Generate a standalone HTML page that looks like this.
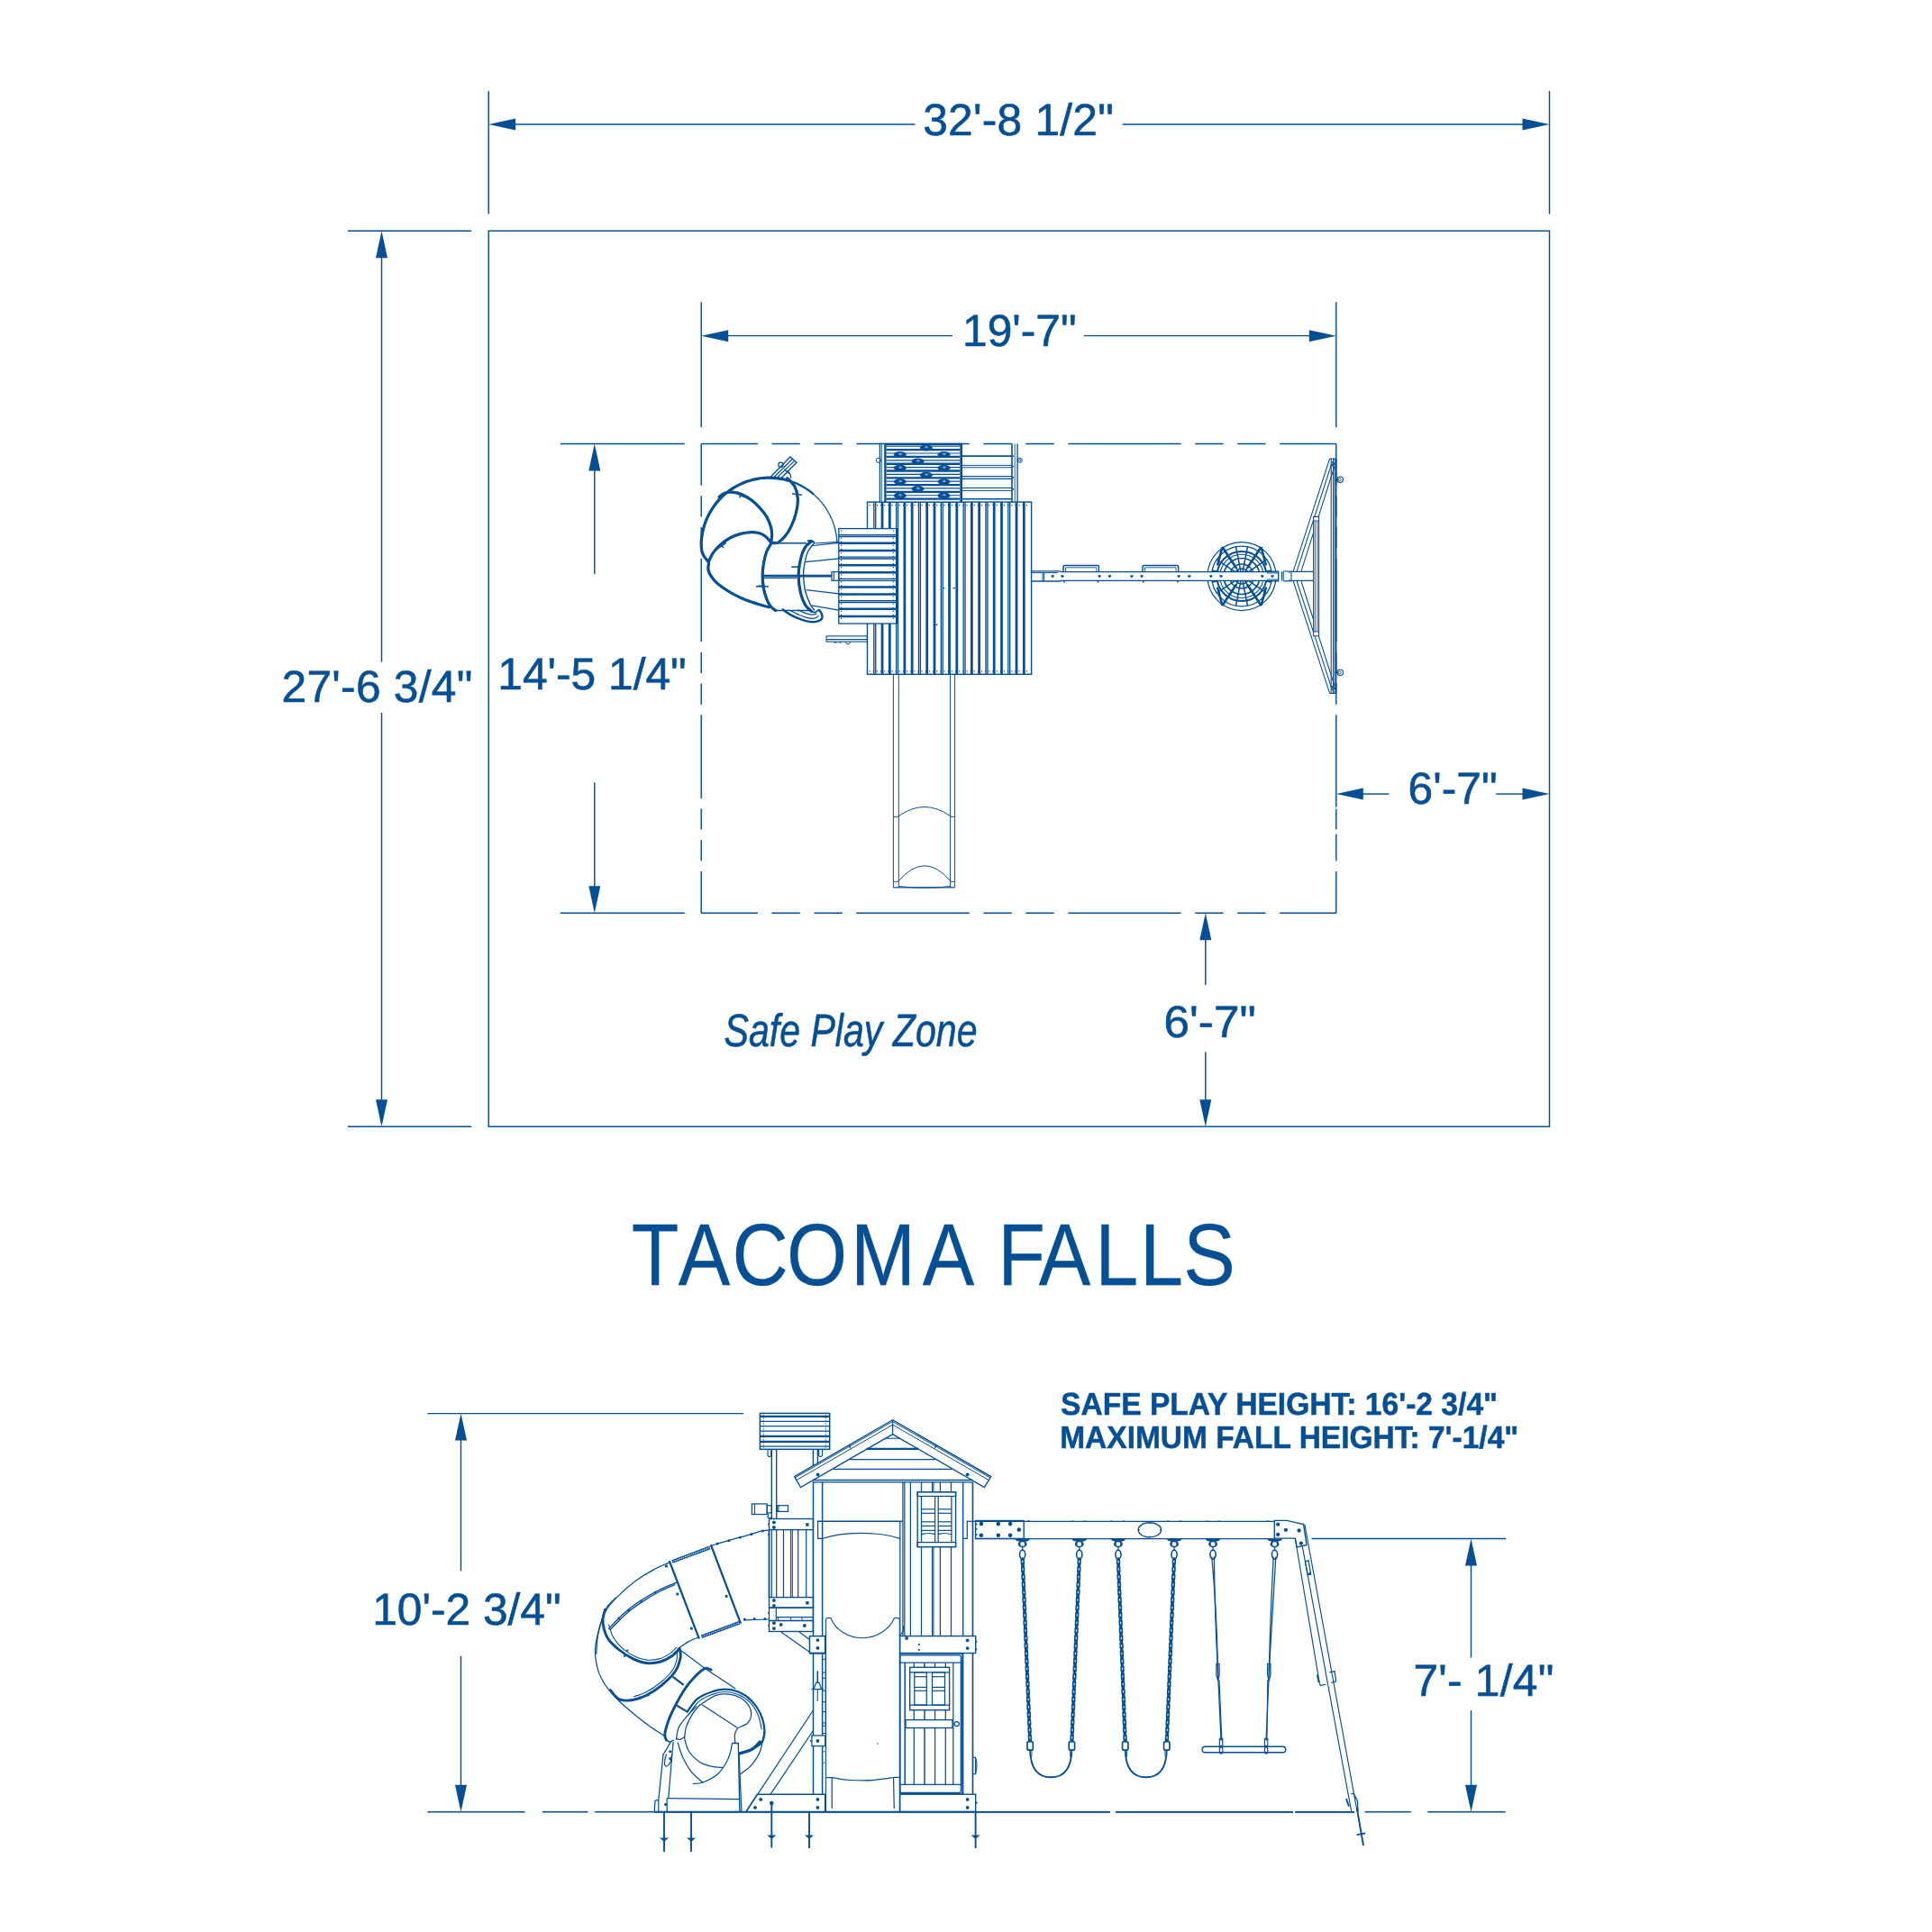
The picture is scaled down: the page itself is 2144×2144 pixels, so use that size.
<!DOCTYPE html>
<html lang="en">
<head>
<meta charset="utf-8">
<title>Tacoma Falls</title>
<style>
html,body{margin:0;padding:0;background:#fff;}
body{width:2144px;height:2144px;overflow:hidden;}
svg{display:block;will-change:transform;}
.s, .s *{fill:none;stroke:#074f95;}
.f{fill:#074f95;stroke:none;}
.s .f{fill:#074f95;stroke:none;}
.s .w{fill:#fff;}
.t{font-family:"Liberation Sans",Arial,Helvetica,sans-serif;fill:#074f95;stroke:none;text-rendering:geometricPrecision;}
.d{stroke:#074f95;stroke-width:0.6px;}
.ls{letter-spacing:0.25px;}
.d2{stroke:#074f95;stroke-width:0.5px;}
.tt{stroke:#074f95;stroke-width:0.25px;}
.b{font-weight:bold;}
.i{font-style:italic;}
</style>
</head>
<body>
<svg width="2144" height="2144" viewBox="0 0 2144 2144">
<rect width="2144" height="2144" fill="#fff"/>
<g id="dims" class="s">
<rect x="542.2" y="256.2" width="1177.3" height="994" stroke-width="1.45"/>
<line x1="542.2" y1="101.0" x2="542.2" y2="237.6" stroke-width="1.45" />
<line x1="1719.5" y1="101.0" x2="1719.5" y2="237.6" stroke-width="1.45" />
<line x1="571.0" y1="138.0" x2="1015.4" y2="138.0" stroke-width="1.45" />
<line x1="1245.7" y1="138.0" x2="1690.0" y2="138.0" stroke-width="1.45" />
<line x1="386.0" y1="256.2" x2="523.3" y2="256.2" stroke-width="1.45" />
<line x1="386.0" y1="1250.2" x2="523.3" y2="1250.2" stroke-width="1.45" />
<line x1="423.5" y1="285.0" x2="423.5" y2="734.4" stroke-width="1.45" />
<line x1="423.5" y1="791.1" x2="423.5" y2="1221.0" stroke-width="1.45" />
<line x1="778.2" y1="335.2" x2="778.2" y2="474.2" stroke-width="1.45" />
<line x1="1482.8" y1="335.2" x2="1482.8" y2="474.2" stroke-width="1.45" />
<line x1="807.0" y1="372.6" x2="1057.0" y2="372.6" stroke-width="1.45" />
<line x1="1202.8" y1="372.6" x2="1453.5" y2="372.6" stroke-width="1.45" />
<line x1="621.8" y1="492.4" x2="759.7" y2="492.4" stroke-width="1.45" />
<line x1="621.8" y1="1013.2" x2="759.7" y2="1013.2" stroke-width="1.45" />
<line x1="659.8" y1="522.0" x2="659.8" y2="637.0" stroke-width="1.45" />
<line x1="659.8" y1="868.4" x2="659.8" y2="984.0" stroke-width="1.45" />
<line x1="1511.0" y1="881.1" x2="1541.4" y2="881.1" stroke-width="1.45" />
<line x1="1660.2" y1="881.1" x2="1690.5" y2="881.1" stroke-width="1.45" />
<line x1="1337.8" y1="1042.0" x2="1337.8" y2="1093.0" stroke-width="1.45" />
<line x1="1337.8" y1="1167.4" x2="1337.8" y2="1221.0" stroke-width="1.45" />
<line x1="778.2" y1="492.4" x2="1482.8" y2="492.4" stroke-width="1.45" stroke-dasharray="125.26 15.66 31.32 15.66 31.32 15.66" stroke-dashoffset="62.63"/>
<line x1="778.2" y1="1013.2" x2="1482.8" y2="1013.2" stroke-width="1.45" stroke-dasharray="125.26 15.66 31.32 15.66 31.32 15.66" stroke-dashoffset="62.63"/>
<line x1="778.2" y1="492.4" x2="778.2" y2="1013.2" stroke-width="1.45" stroke-dasharray="92.59 11.57 23.15 11.57 23.15 11.57" stroke-dashoffset="46.29"/>
<line x1="1482.8" y1="492.4" x2="1482.8" y2="1013.2" stroke-width="1.45" stroke-dasharray="92.59 11.57 23.15 11.57 23.15 11.57" stroke-dashoffset="46.29"/>
<path d="M1482.8,885 V895.4 M1482.8,925.8 V933" stroke-width="1.45"/>
<line x1="474.4" y1="1568.6" x2="825.0" y2="1568.6" stroke-width="1.45" />
<line x1="511.5" y1="1597.0" x2="511.5" y2="1743.4" stroke-width="1.45" />
<line x1="511.5" y1="1837.7" x2="511.5" y2="1982.0" stroke-width="1.45" />
<line x1="1455.4" y1="1707.5" x2="1671.0" y2="1707.5" stroke-width="1.45" />
<line x1="1632.5" y1="1736.0" x2="1632.5" y2="1839.5" stroke-width="1.45" />
<line x1="1632.5" y1="1898.2" x2="1632.5" y2="1982.0" stroke-width="1.45" />
</g>
<polygon class="f" points="542.2,138.0 572.2,131.5 572.2,144.5"/>
<polygon class="f" points="1719.5,138.0 1689.5,131.5 1689.5,144.5"/>
<polygon class="f" points="423.5,256.2 417.0,286.2 430.0,286.2"/>
<polygon class="f" points="423.5,1250.2 417.0,1220.2 430.0,1220.2"/>
<polygon class="f" points="778.2,372.7 808.2,366.2 808.2,379.2"/>
<polygon class="f" points="1482.8,372.7 1452.8,366.2 1452.8,379.2"/>
<polygon class="f" points="659.8,492.4 653.3,522.4 666.3,522.4"/>
<polygon class="f" points="659.8,1013.2 653.3,983.2 666.3,983.2"/>
<polygon class="f" points="1482.8,881.1 1512.8,874.6 1512.8,887.6"/>
<polygon class="f" points="1719.5,881.1 1689.5,874.6 1689.5,887.6"/>
<polygon class="f" points="1337.8,1013.2 1331.3,1043.2 1344.3,1043.2"/>
<polygon class="f" points="1337.8,1250.2 1331.3,1220.2 1344.3,1220.2"/>
<polygon class="f" points="511.5,1568.6 505.0,1598.6 518.0,1598.6"/>
<polygon class="f" points="511.5,2010.8 505.0,1980.8 518.0,1980.8"/>
<polygon class="f" points="1632.5,1707.5 1626.0,1737.5 1639.0,1737.5"/>
<polygon class="f" points="1632.5,2010.8 1626.0,1980.8 1639.0,1980.8"/>
<text x="1024.2" y="149.8" font-size="49.7" class="t d ls" >32'-8 1/2"</text>
<text x="1068.0" y="384.0" font-size="49.7" class="t d" >19'-7"</text>
<text x="312.6" y="778.9" font-size="49.7" class="t d ls" >27'-6 3/4"</text>
<text x="552.3" y="764.5" font-size="49.7" class="t d" >14'-5 1/4"</text>
<text x="1562.6" y="891.7" font-size="49.7" class="t d" >6'-7"</text>
<text x="1291.6" y="1150.7" font-size="49.7" class="t d" textLength="102" lengthAdjust="spacingAndGlyphs">6'-7"</text>
<text x="803.5" y="1161.2" font-size="51" class="t i d" textLength="281" lengthAdjust="spacingAndGlyphs">Safe Play Zone</text>
<text class="t tt" transform="scale(0.886,1)" x="790.9 849.6 917.0 985.4 1065.4 1155.4 1215.4 1249.8 1301.1 1371.5 1427.8 1482.2" y="1426.0" font-size="97.5">TACOMA FALLS</text>
<text x="1177.0" y="1569.5" font-size="35" class="t b d2" textLength="485" lengthAdjust="spacingAndGlyphs">SAFE PLAY HEIGHT: 16'-2 3/4"</text>
<text x="1176.2" y="1606.9" font-size="35" class="t b d2" textLength="509" lengthAdjust="spacingAndGlyphs">MAXIMUM FALL HEIGHT: 7'-1/4"</text>
<text x="413.2" y="1803.4" font-size="49.7" class="t d" >10'-2 3/4"</text>
<text x="1568.4" y="1881.8" font-size="49.7" class="t d ls" >7'- 1/4"</text>
<g id="topview" class="s">
<rect class="w" x="962.5" y="557.1" width="182.1" height="191.2" stroke-width="1.4"/>
<path d="M979.05,557.1 V748.3 M987.33,557.1 V748.3 M1003.89,557.1 V748.3 M1012.16,557.1 V748.3 M1028.72,557.1 V748.3 M1037.00,557.1 V748.3 M1053.55,557.1 V748.3 M1061.83,557.1 V748.3 M1078.38,557.1 V748.3 M1086.66,557.1 V748.3 M1103.21,557.1 V748.3 M1111.49,557.1 V748.3 M1128.05,557.1 V748.3 M1136.32,557.1 V748.3 " stroke-width="2.75"/>
<path d="M969.83,557.1 V748.3 M971.73,557.1 V748.3 M994.66,557.1 V748.3 M996.56,557.1 V748.3 M1019.49,557.1 V748.3 M1021.39,557.1 V748.3 M1044.32,557.1 V748.3 M1046.22,557.1 V748.3 M1069.15,557.1 V748.3 M1071.05,557.1 V748.3 M1093.99,557.1 V748.3 M1095.89,557.1 V748.3 M1118.82,557.1 V748.3 M1120.72,557.1 V748.3 " stroke-width="1.35"/>
<line x1="964.5" y1="560.7" x2="1142.6" y2="560.7" stroke-width="1.2" stroke-dasharray="1.2 2.95"/>
<line x1="964.5" y1="744.8" x2="1142.6" y2="744.8" stroke-width="1.2" stroke-dasharray="1.2 2.95"/>
<line x1="991.4" y1="748.3" x2="991.4" y2="984.9" stroke-width="1.0"/>
<line x1="997.3" y1="748.3" x2="997.3" y2="984.9" stroke-width="1.0"/>
<line x1="1054.6" y1="748.3" x2="1054.6" y2="984.9" stroke-width="1.0"/>
<line x1="1059.6" y1="748.3" x2="1059.6" y2="984.9" stroke-width="1.0"/>
<line x1="991.4" y1="984.9" x2="1059.6" y2="984.9" stroke-width="1.2"/>
<path d="M997.3,905.6 Q1026,885.4 1054.6,905.6" stroke-width="1"/>
<path d="M991.4,905.9 Q994.5,908 997.3,905.6 M1054.6,905.6 Q1057.2,908 1059.6,905.9" stroke-width="1"/>
<path d="M997.3,977.6 Q1026,944 1054.6,977.6" stroke-width="1"/>
<path d="M991.4,977.9 Q994.5,980 997.3,977.6 M1054.6,977.6 Q1057.2,980 1059.6,977.9" stroke-width="1"/>
<path d="M997.3,983.6 Q1026,987 1054.6,983.6" stroke-width="1"/>
<rect class="w" x="976.4" y="492.4" width="91.0" height="64.7" stroke-width="1.3"/>
<line x1="978.3" y1="492.4" x2="978.3" y2="557.1" stroke-width="0.9"/>
<line x1="982.4" y1="492.4" x2="982.4" y2="557.1" stroke-width="2.4"/>
<line x1="1066.3" y1="492.4" x2="1066.3" y2="557.1" stroke-width="2"/>
<line x1="983" y1="493.2" x2="1066" y2="493.2" stroke-width="2"/>
<path d="M983.6,499.20 H1065 M983.6,506.97 H1065 M983.6,514.74 H1065 M983.6,522.51 H1065 M983.6,530.28 H1065 M983.6,538.05 H1065 M983.6,545.82 H1065 M983.6,553.59 H1065 " stroke-width="2.3"/>
<path d="M983.6,495.30 H1065 M983.6,503.07 H1065 M983.6,510.84 H1065 M983.6,518.61 H1065 M983.6,526.38 H1065 M983.6,534.15 H1065 M983.6,541.92 H1065 M983.6,549.69 H1065 " stroke-width="1.1"/>
<ellipse class="f" cx="1027.9" cy="496.9" rx="7" ry="3.5"/>
<ellipse cx="1028.2" cy="496.29999999999995" rx="1.5" ry="0.7" stroke="#fff" stroke-width="0.7" style="stroke:#cfe0f0"/>
<ellipse class="f" cx="998.8" cy="504.4" rx="7" ry="3.5"/>
<ellipse cx="999.0999999999999" cy="503.79999999999995" rx="1.5" ry="0.7" stroke="#fff" stroke-width="0.7" style="stroke:#cfe0f0"/>
<ellipse class="f" cx="1047.5" cy="504.4" rx="7" ry="3.5"/>
<ellipse cx="1047.8" cy="503.79999999999995" rx="1.5" ry="0.7" stroke="#fff" stroke-width="0.7" style="stroke:#cfe0f0"/>
<ellipse class="f" cx="1018.5" cy="512" rx="7" ry="3.5"/>
<ellipse cx="1018.8" cy="511.4" rx="1.5" ry="0.7" stroke="#fff" stroke-width="0.7" style="stroke:#cfe0f0"/>
<ellipse class="f" cx="998.8" cy="519.3" rx="7" ry="3.5"/>
<ellipse cx="999.0999999999999" cy="518.6999999999999" rx="1.5" ry="0.7" stroke="#fff" stroke-width="0.7" style="stroke:#cfe0f0"/>
<ellipse class="f" cx="1047.5" cy="519.3" rx="7" ry="3.5"/>
<ellipse cx="1047.8" cy="518.6999999999999" rx="1.5" ry="0.7" stroke="#fff" stroke-width="0.7" style="stroke:#cfe0f0"/>
<ellipse class="f" cx="1027.9" cy="527.2" rx="7" ry="3.5"/>
<ellipse cx="1028.2" cy="526.6" rx="1.5" ry="0.7" stroke="#fff" stroke-width="0.7" style="stroke:#cfe0f0"/>
<ellipse class="f" cx="998.8" cy="534.6" rx="7" ry="3.5"/>
<ellipse cx="999.0999999999999" cy="534.0" rx="1.5" ry="0.7" stroke="#fff" stroke-width="0.7" style="stroke:#cfe0f0"/>
<ellipse class="f" cx="1047.5" cy="534.6" rx="7" ry="3.5"/>
<ellipse cx="1047.8" cy="534.0" rx="1.5" ry="0.7" stroke="#fff" stroke-width="0.7" style="stroke:#cfe0f0"/>
<ellipse class="f" cx="1018.5" cy="542.5" rx="7" ry="3.5"/>
<ellipse cx="1018.8" cy="541.9" rx="1.5" ry="0.7" stroke="#fff" stroke-width="0.7" style="stroke:#cfe0f0"/>
<ellipse class="f" cx="998.8" cy="550" rx="7" ry="3.5"/>
<ellipse cx="999.0999999999999" cy="549.4" rx="1.5" ry="0.7" stroke="#fff" stroke-width="0.7" style="stroke:#cfe0f0"/>
<ellipse class="f" cx="1047.5" cy="550" rx="7" ry="3.5"/>
<ellipse cx="1047.8" cy="549.4" rx="1.5" ry="0.7" stroke="#fff" stroke-width="0.7" style="stroke:#cfe0f0"/>
<circle cx="974.9" cy="510.8" r="2.6" stroke-width="1"/>
<circle cx="1131.6" cy="510.8" r="2.6" stroke-width="1"/>
<circle cx="1131.6" cy="510.8" r="1.2" stroke-width="0.8"/>
<line x1="1067.4" y1="506.1" x2="1123" y2="506.1" stroke-width="1.6"/>
<line x1="1067.4" y1="516.4" x2="1123" y2="516.4" stroke-width="1"/>
<line x1="1067.4" y1="518.8" x2="1123" y2="518.8" stroke-width="1"/>
<line x1="1067.4" y1="528.7" x2="1123" y2="528.7" stroke-width="1.2"/>
<line x1="1067.4" y1="531.3" x2="1123" y2="531.3" stroke-width="1.2"/>
<line x1="1067.4" y1="541.5" x2="1123" y2="541.5" stroke-width="1"/>
<line x1="1067.4" y1="544.4" x2="1123" y2="544.4" stroke-width="1"/>
<line x1="1067.4" y1="553.8" x2="1123" y2="553.8" stroke-width="1.6"/>
<line x1="1123" y1="492.4" x2="1123" y2="557.1" stroke-width="1.6"/>
<line x1="1126.2" y1="492.4" x2="1126.2" y2="557.1" stroke-width="0.9"/>
<line x1="1129.1" y1="492.4" x2="1129.1" y2="557.1" stroke-width="1.3"/>
<circle class="f" cx="1124.3" cy="506.1" r="0.9"/>
<circle class="f" cx="1124.3" cy="517.6" r="0.9"/>
<circle class="f" cx="1124.3" cy="530" r="0.9"/>
<circle class="f" cx="1124.3" cy="543" r="0.9"/>
<rect class="w" x="930.8" y="586.6" width="64.4" height="105.4" stroke-width="1.3"/>
<path d="M930.8,602.82 H995.2 M930.8,610.92 H995.2 M930.8,627.14 H995.2 M930.8,635.25 H995.2 M930.8,651.46 H995.2 M930.8,659.57 H995.2 M930.8,675.78 H995.2 M930.8,683.89 H995.2 " stroke-width="2.5"/>
<path d="M930.8,593.76 H995.2 M930.8,595.66 H995.2 M930.8,618.08 H995.2 M930.8,619.98 H995.2 M930.8,642.40 H995.2 M930.8,644.30 H995.2 M930.8,666.73 H995.2 M930.8,668.63 H995.2 " stroke-width="1.35"/>
<line x1="995.2" y1="586.6" x2="995.2" y2="692.0" stroke-width="2.4"/>
<line x1="933.6" y1="588.6" x2="933.6" y2="690.0" stroke-width="1.2" stroke-dasharray="1.2 2.85"/>
<line x1="991.3" y1="588.6" x2="991.3" y2="690.0" stroke-width="1.2" stroke-dasharray="1.2 2.85"/>
<rect x="917.1" y="705.9" width="45.3" height="6.2" stroke-width="1.1"/>
<line x1="917.1" y1="709.6" x2="962.4" y2="709.6" stroke-width="1.4"/>
<path d="M938.4,712.3 a2.6,2.6 0 0 0 5.2,0" stroke-width="1"/>
<path d="M925,713 h4 M931,713 h3" stroke-width="1"/>
<path d="M1046,652.6 h2.5 M1057.5,652.6 h2.5 M1038.5,693.2 h2" stroke-width="1.4"/>
</g>
<g id="topview2" class="s">
<path class="w" d="M1144.6,633.9 H1176 L1177.5,634.6 H1418.6 V644.3 H1177.5 L1176,645 H1144.6 Z" stroke-width="1.3"/>
<path d="M1144.6,635.6 H1174 M1157,636 V645 M1158.6,636 V645" stroke-width="1"/>
<path d="M1180.0,634.3 V629 Q1180.0,627.4 1181.6,627.4 H1217.8000000000002 Q1219.4,627.4 1219.4,629 V634.3" stroke-width="1.5"/>
<path d="M1182.6,634.3 V629.8 H1216.8000000000002 V634.3" stroke-width="0.9"/>
<path d="M1180.8,645 v1.6 M1218.6000000000001,645 v1.6" stroke-width="1.6"/>
<path d="M1268.0,634.3 V629 Q1268.0,627.4 1269.6,627.4 H1306.1000000000001 Q1307.7,627.4 1307.7,629 V634.3" stroke-width="1.5"/>
<path d="M1270.6,634.3 V629.8 H1305.1000000000001 V634.3" stroke-width="0.9"/>
<path d="M1268.8,645 v1.6 M1306.9,645 v1.6" stroke-width="1.6"/>
<path class="f" d="M1166.5,638.2 h3.2 v1.6 l-1.6,1.5 l-1.6,-1.5 z"/>
<path class="f" d="M1177.3000000000002,638.2 h3.2 v1.6 l-1.6,1.5 l-1.6,-1.5 z"/>
<path class="f" d="M1218.5,638.2 h3.2 v1.6 l-1.6,1.5 l-1.6,-1.5 z"/>
<path class="f" d="M1229.8000000000002,638.2 h3.2 v1.6 l-1.6,1.5 l-1.6,-1.5 z"/>
<path class="f" d="M1254.3000000000002,638.2 h3.2 v1.6 l-1.6,1.5 l-1.6,-1.5 z"/>
<path class="f" d="M1265.4,638.2 h3.2 v1.6 l-1.6,1.5 l-1.6,-1.5 z"/>
<path class="f" d="M1306.5,638.2 h3.2 v1.6 l-1.6,1.5 l-1.6,-1.5 z"/>
<path class="f" d="M1318.2,638.2 h3.2 v1.6 l-1.6,1.5 l-1.6,-1.5 z"/>
<path class="f" d="M1342.2,638.2 h3.2 v1.6 l-1.6,1.5 l-1.6,-1.5 z"/>
<path class="f" d="M1353.4,638.2 h3.2 v1.6 l-1.6,1.5 l-1.6,-1.5 z"/>
<path class="f" d="M1399.2,638.2 h3.2 v1.6 l-1.6,1.5 l-1.6,-1.5 z"/>
<path class="f" d="M1410.4,638.2 h3.2 v1.6 l-1.6,1.5 l-1.6,-1.5 z"/>
<circle cx="1378.0" cy="639.5" r="38" stroke-width="1.25"/>
<circle cx="1378.0" cy="639.5" r="33.4" stroke-width="1.3"/>
<circle cx="1378.0" cy="639.5" r="27.6" stroke-width="2.0"/>
<circle cx="1378.0" cy="639.5" r="24.2" stroke-width="1.1"/>
<circle cx="1378.0" cy="639.5" r="20" stroke-width="1.7"/>
<circle cx="1378.0" cy="639.5" r="13.5" stroke-width="1.5"/>
<circle cx="1378.0" cy="639.5" r="8.5" stroke-width="1.5"/>
<circle cx="1378.0" cy="639.5" r="4" stroke-width="1.4"/>
<path d="M1381.9,640.3 L1410.8,646.0 M1381.3,641.7 L1405.8,658.1 M1380.2,642.8 L1396.6,667.3 M1378.8,643.4 L1384.5,672.3 M1377.2,643.4 L1371.5,672.3 M1375.8,642.8 L1359.4,667.3 M1374.7,641.7 L1350.2,658.1 M1374.1,640.3 L1345.2,646.0 M1374.1,638.7 L1345.2,633.0 M1374.7,637.3 L1350.2,620.9 M1375.8,636.2 L1359.4,611.7 M1377.2,635.6 L1371.5,606.7 M1378.8,635.6 L1384.5,606.7 M1380.2,636.2 L1396.6,611.7 M1381.3,637.3 L1405.8,620.9 M1381.9,638.7 L1410.8,633.0 " stroke-width="1.5"/>
<path d="M1356.5,607.0 L1351.0,627.5 M1356.5,607.0 L1372.0,630.5 M1356.5,672.0 L1351.0,651.5 M1356.5,672.0 L1372.0,648.5 M1399.5,607.0 L1405.0,627.5 M1399.5,607.0 L1384.0,630.5 M1399.5,672.0 L1405.0,651.5 M1399.5,672.0 L1384.0,648.5 " stroke-width="2.6"/>
<rect class="w" x="1330" y="634.6" width="88.6" height="9.7" stroke="none" style="stroke:none"/>
<path d="M1330,634.6 H1418.6 M1330,644.3 H1418.6" stroke-width="1.3"/>
<path class="f" d="M1342.2,638.2 h3.2 v1.6 l-1.6,1.5 l-1.6,-1.5 z"/>
<path class="f" d="M1353.4,638.2 h3.2 v1.6 l-1.6,1.5 l-1.6,-1.5 z"/>
<path class="f" d="M1399.2,638.2 h3.2 v1.6 l-1.6,1.5 l-1.6,-1.5 z"/>
<path class="f" d="M1410.4,638.2 h3.2 v1.6 l-1.6,1.5 l-1.6,-1.5 z"/>
<path d="M1406.5,634 h12 v2 h-12 z M1406.5,643 h12 v2 h-12 z" stroke-width="0.9"/>
<path d="M1418.6,633.4 V645.4 M1422.5,634.3 V644.6 M1424.2,634.3 V644.6 M1424.2,634 H1433 M1424.2,644.9 H1433 M1433,633.6 V645.2 M1431,634 V636 M1431,643 V645" stroke-width="1.1"/>
<path d="M1433,634.4 H1457.5 M1433,644.4 H1457.5" stroke-width="1.2"/>
<line x1="1477.2" y1="509" x2="1477.2" y2="769.4" stroke-width="1.1"/>
<line x1="1479.6" y1="509" x2="1479.6" y2="769.4" stroke-width="1.1"/>
<line x1="1481.2" y1="509" x2="1481.2" y2="769.4" stroke-width="1.1"/>
<path d="M1475.6,509 H1482.8 M1475.6,769.4 H1482.8" stroke-width="1.1"/>
<path d="M1482.8,509 V769.4" stroke-width="1.4"/>
<path d="M1435.2,633.8 L1475.6,509 M1439.2,633.8 L1478.6,512 M1444,633.8 L1480.9,517.5" stroke-width="1.05"/>
<path d="M1435.2,645 L1475.6,769.4 M1439.2,645 L1478.6,766.4 M1444,645 L1480.9,761" stroke-width="1.05"/>
<path d="M1477.5,517 L1481.6,514 M1477.5,761.5 L1481.6,764.5" stroke-width="1.6"/>
<path class="w" d="M1457.6,573.4 H1463.6 V705.8 H1457.6 Z" stroke-width="1.1"/>
<path d="M1459.3,578 V701 M1461.9,578 V701 M1457.6,578 H1463.6 M1457.6,701 H1463.6" stroke-width="0.9"/>
<circle cx="1487.2" cy="532.3" r="3.3" stroke-width="1.1"/>
<circle cx="1486.6" cy="532.3" r="1.5" stroke-width="0.9"/>
<path d="M1481.5,532.3 H1485" stroke-width="2"/>
<circle cx="1487.2" cy="746.3" r="3.3" stroke-width="1.1"/>
<circle cx="1486.6" cy="746.3" r="1.5" stroke-width="0.9"/>
<path d="M1481.5,746.3 H1485" stroke-width="2"/>
</g>
<g id="spiral" class="s">
<path d="M854.9,529.5 L876.9,507.0 L883.9,513.2 L866.8,530.8Z" stroke-width="1.38" class="w"/>
<path d="M858.9,529.5 L879.5,509.2" stroke-width="1.25"/>
<path d="M862.4,529.9 L881.7,511.4" stroke-width="1.25"/>
<path d="M870.3,520.7 L875.6,525.5" stroke-width="1.25"/>
<circle cx="866.4" cy="515.8" r="2.6" stroke-width="1.25"/>
<path d="M874.3,522.4 C874.7,523.1 876.3,525.1 876.9,526.4 C877.5,527.7 877.6,529.7 877.8,530.4" stroke-width="1.25" stroke-linecap="round" stroke-linejoin="round" />
<path d="M928.9,601.2 C928.8,600.8 928.7,599.3 928.7,598.4 C928.6,597.4 928.5,596.5 928.3,595.5 C928.2,594.5 928.0,593.6 927.9,592.6 C927.7,591.7 927.5,590.7 927.3,589.8 C927.1,588.9 926.9,587.9 926.7,587.0 C926.4,586.1 926.2,585.1 925.9,584.2 C925.6,583.3 925.3,582.4 925.0,581.4 C924.7,580.5 924.4,579.6 924.1,578.7 C923.7,577.8 923.4,576.9 923.0,576.0 C922.6,575.2 922.2,574.3 921.8,573.4 C921.4,572.5 921.0,571.7 920.5,570.8 C920.1,570.0 919.6,569.1 919.1,568.3 C918.7,567.4 918.2,566.6 917.6,565.8 C917.1,565.0 916.6,564.2 916.1,563.4 C915.5,562.6 915.0,561.8 914.4,561.0 C913.8,560.2 913.3,559.5 912.7,558.7 C912.1,558.0 911.5,557.2 910.8,556.5 C910.2,555.8 909.6,555.0 908.9,554.3 C908.2,553.6 907.6,552.9 906.9,552.2 C906.2,551.6 905.5,550.9 904.8,550.2 C904.1,549.6 903.4,549.0 902.7,548.3 C901.9,547.7 901.2,547.1 900.4,546.5 C899.7,545.9 898.9,545.3 898.1,544.7 C897.3,544.2 896.2,543.4 895.8,543.1" stroke-width="1.25" stroke-linecap="round" stroke-linejoin="round" />
<path d="M902.1,547.8 C901.9,547.7 901.3,547.2 901.0,546.9 C900.6,546.6 900.2,546.3 899.8,546.0 C899.5,545.7 899.1,545.5 898.7,545.2 C898.3,544.9 897.9,544.6 897.6,544.3 C897.2,544.0 896.8,543.8 896.4,543.5 C896.0,543.2 895.6,543.0 895.2,542.7 C894.8,542.4 894.4,542.2 894.0,541.9 C893.6,541.7 893.2,541.4 892.8,541.2 C892.4,540.9 892.0,540.7 891.6,540.4 C891.2,540.2 890.8,540.0 890.3,539.7 C889.9,539.5 889.5,539.3 889.1,539.1 C888.7,538.8 888.3,538.6 887.8,538.4 C887.4,538.2 887.0,538.0 886.6,537.8 C886.1,537.6 885.7,537.4 885.3,537.2 C884.8,537.0 884.4,536.8 884.0,536.6 C883.5,536.4 883.1,536.2 882.7,536.0 C882.2,535.8 881.8,535.6 881.3,535.5 C880.9,535.3 880.4,535.1 880.0,535.0 C879.6,534.8 879.1,534.6 878.7,534.5 C878.2,534.3 877.8,534.2 877.3,534.0 C876.9,533.9 876.4,533.7 876.0,533.6 C875.5,533.4 875.0,533.3 874.6,533.2 C874.1,533.0 873.7,532.9 873.2,532.8 C872.8,532.7 872.1,532.5 871.8,532.4" stroke-width="2.24" stroke-linecap="round" stroke-linejoin="round" />
<path d="M874.4,533.1 C873.5,532.9 870.7,532.1 868.8,531.7 C867.0,531.4 865.1,531.0 863.2,530.8 C861.3,530.6 859.4,530.4 857.5,530.3 C855.6,530.2 853.7,530.2 851.8,530.2 C849.9,530.2 848.0,530.4 846.1,530.5 C844.3,530.7 842.4,531.0 840.5,531.3 C838.6,531.7 836.8,532.1 834.9,532.5 C833.1,533.0 831.3,533.5 829.5,534.1 C827.7,534.8 825.9,535.4 824.1,536.2 C822.4,536.9 820.7,537.7 819.0,538.6 C817.3,539.5 815.6,540.4 814.0,541.4 C812.4,542.4 810.8,543.5 809.3,544.6 C807.7,545.7 806.2,546.9 804.8,548.1 C803.3,549.3 801.9,550.6 800.6,552.0 C799.2,553.3 797.9,554.7 796.7,556.1 C795.4,557.6 794.2,559.0 793.1,560.6 C792.0,562.1 790.9,563.7 789.9,565.3 C788.9,566.9 787.9,568.5 787.0,570.2 C786.1,571.9 785.3,573.6 784.5,575.3 C783.8,577.1 783.1,578.8 782.4,580.6 C781.8,582.4 781.2,584.2 780.8,586.1 C780.3,587.9 779.8,589.8 779.5,591.6 C779.1,593.5 778.9,595.4 778.6,597.3 C778.4,599.2 778.2,600.6 778.2,603.0 C778.3,605.3 778.3,608.9 778.8,611.3 C779.3,613.7 780.3,615.5 781.4,617.5 C782.6,619.4 785.1,622.2 785.8,623.2" stroke-width="3.25" stroke-linecap="round" stroke-linejoin="round" />
<path d="M786.7,623.6 C786.6,625.2 785.2,629.7 786.1,633.0 C786.9,636.2 789.5,640.1 791.8,643.0 C794.2,646.0 797.1,648.3 800.4,650.8 C803.6,653.3 807.1,655.5 811.2,657.8 C815.4,660.1 820.3,662.7 825.2,664.8 C830.1,666.9 836.1,668.7 840.7,670.2 C845.4,671.7 851.1,673.2 853.2,673.8" stroke-width="3.25" stroke-linecap="round" stroke-linejoin="round" />
<path d="M873.8,530.8 C875.2,532.3 879.8,535.9 881.7,539.6 C883.7,543.3 885.0,548.0 885.3,552.8 C885.6,557.6 884.7,563.5 883.5,568.6 C882.3,573.8 880.3,579.2 878.2,583.6 C876.2,588.0 873.7,592.0 871.2,595.0 C868.7,598.1 865.7,600.8 863.3,602.1 C860.9,603.3 857.8,602.4 856.7,602.5" stroke-width="3.25" stroke-linecap="round" stroke-linejoin="round" />
<path d="M798.0,551.5 C799.0,550.8 801.9,548.2 804.3,547.3 C806.7,546.5 809.2,546.0 812.2,546.2 C815.3,546.4 819.3,547.0 822.8,548.4 C826.3,549.8 830.0,552.1 833.4,554.6 C836.7,557.0 840.1,560.1 843.0,563.4 C846.0,566.6 848.9,570.4 851.0,573.9 C853.0,577.4 854.4,581.2 855.4,584.5 C856.3,587.7 856.6,590.5 856.7,593.3 C856.7,596.1 855.9,599.9 855.8,601.2" stroke-width="3.25" stroke-linecap="round" stroke-linejoin="round" />
<path d="M786.7,622.3 C787.6,620.7 789.8,615.6 792.0,612.6 C794.2,609.6 796.8,606.9 799.9,604.3 C803.0,601.6 806.8,598.8 810.5,596.8 C814.1,594.8 818.1,593.4 821.9,592.4 C825.7,591.4 830.0,590.8 833.4,590.6 C836.7,590.5 839.5,590.8 842.2,591.5 C844.8,592.2 847.1,593.4 849.2,595.0 C851.3,596.6 854.0,600.2 854.9,601.2" stroke-width="3.25" stroke-linecap="round" stroke-linejoin="round" />
<path d="M-5.5,0 H5.5 M0,-3 V3" transform="translate(821.9,549.7) rotate(25)" stroke-width="1.5"/>
<path d="M-5.5,0 H5.5 M0,-3 V3" transform="translate(884.4,548.4) rotate(8)" stroke-width="1.5"/>
<path d="M-5.5,0 H5.5 M0,-3 V3" transform="translate(801.2,605.6) rotate(-35)" stroke-width="1.5"/>
<path d="M-5.5,0 H5.5 M0,-3 V3" transform="translate(847.4,650.5) rotate(5)" stroke-width="1.5"/>
<path d="M856.6,601.9 C855.6,603.6 852.4,608.0 850.8,612.0 C849.3,616.0 848.0,621.4 847.3,626.0 C846.5,630.5 846.2,634.8 846.2,639.2 C846.2,643.6 846.5,648.1 847.3,652.4 C848.0,656.6 849.5,661.3 850.8,664.8 C852.2,668.3 853.8,671.2 855.5,673.3 C857.2,675.4 860.0,676.8 860.9,677.5" stroke-width="3.25" stroke-linecap="round" stroke-linejoin="round" />
<path d="M857.0,602.7 L895.1,602.7" stroke-width="1.5"/>
<path d="M860.9,677.5 L900.5,677.5" stroke-width="1.57"/>
<path d="M847.0,639.2 L923.0,639.2" stroke-width="2.69"/>
<path d="M847.7,641.5 L884.2,641.5" stroke-width="1.0"/>
<path d="M900.5,600.8 C899.4,601.9 895.5,604.2 893.5,607.3 C891.5,610.5 889.8,614.6 888.6,619.8 C887.3,624.9 886.1,631.9 886.1,638.4 C886.1,644.9 887.3,653.0 888.6,658.6 C889.9,664.1 891.9,668.5 893.9,671.8 C895.8,675.1 899.4,677.3 900.5,678.4" stroke-width="3.25" stroke-linecap="round" stroke-linejoin="round" />
<path d="M903.6,602.7 C902.5,604.2 898.5,608.1 896.6,612.0 C894.8,615.9 893.6,621.6 892.8,626.0 C891.9,630.4 891.4,633.5 891.5,638.4 C891.7,643.3 892.3,650.2 893.5,655.5 C894.8,660.8 897.3,666.6 899.0,670.2 C900.7,673.8 902.9,675.8 903.6,676.9" stroke-width="1.38" stroke-linecap="round" stroke-linejoin="round" />
<path d="M896.6,600.3 C897.2,600.2 898.6,599.3 899.8,599.6 C900.9,599.8 903.0,601.5 903.6,601.9" stroke-width="1.79" stroke-linecap="round" stroke-linejoin="round" />
<path d="M900.5,678.4 C901.2,678.6 903.2,679.7 904.4,679.5 C905.6,679.4 907.0,677.9 907.5,677.5" stroke-width="1.79" stroke-linecap="round" stroke-linejoin="round" />
<path d="M904.4,603.0 L930.8,601.4" stroke-width="1.25"/>
<path d="M900.5,605.8 L930.8,602.4" stroke-width="1.12"/>
<path d="M893.9,623.6 L930.8,619.8" stroke-width="1.25"/>
<path d="M894.8,654.7 L930.8,658.9" stroke-width="1.25"/>
<path d="M900.5,671.8 L930.8,677.2" stroke-width="1.25"/>
<rect x="923.0" y="634.5" width="7.8" height="9.8" stroke-width="1.25"/>
<path d="M925.4,634.5 L925.4,644.3" stroke-width="1.12"/>
<path d="M868.7,676.4 C870.2,677.5 874.6,680.8 878.0,682.6 C881.4,684.5 885.5,686.1 888.9,687.3 C892.2,688.5 895.2,689.5 898.2,689.9 C901.2,690.3 904.4,690.2 906.7,689.6 C909.1,689.0 911.4,687.8 912.2,686.2 C913.0,684.7 912.0,681.9 911.4,680.3 C910.8,678.8 909.2,677.5 908.8,676.9" stroke-width="2.46" stroke-linecap="round" stroke-linejoin="round" />
<path d="M876.5,677.2 C878.0,678.0 882.7,680.5 885.8,681.9 C888.9,683.2 892.1,684.6 895.1,685.3 C898.1,686.0 901.4,686.5 903.6,686.2 C905.8,686.0 907.5,684.1 908.3,683.7" stroke-width="1.25" stroke-linecap="round" stroke-linejoin="round" />
<path d="M885.8,676.9 C887.1,677.5 891.0,679.4 893.5,680.3 C896.1,681.2 899.2,682.0 901.3,682.2 C903.4,682.3 905.2,681.4 906.0,681.2" stroke-width="1.25" stroke-linecap="round" stroke-linejoin="round" />
<path d="M-5,0 H5" transform="translate(883.4,629.1)" stroke-width="1.6"/>
<path d="M-5,0 H5" transform="translate(843.9,650.8)" stroke-width="1.6"/>
</g>
<g id="tower" class="s">
<path d="M881.6,1638.6 L990.6,1575.7 L1099.7,1638.6 L1092.4,1650.6 L990.6,1591.6 L888.5,1650.6Z" stroke-width="1.38"/>
<path d="M882.3,1639.9 L990.6,1577.5 L1098.9,1639.9" stroke-width="1.0"/>
<path d="M883.9,1642.6 L990.6,1581.1 L1097.4,1642.6" stroke-width="1.0"/>
<path d="M990.6,1576.0 L990.6,1591.6" stroke-width="1.25"/>
<path d="M942.1,1603.7 L944.0,1607.1" stroke-width="1.25"/>
<path d="M1039.2,1603.7 L1037.3,1607.1" stroke-width="1.25"/>
<path d="M901.7,1642.5 L1079.5,1642.5" stroke-width="1.5"/>
<path d="M901.7,1644.8 L1079.5,1644.8" stroke-width="1.25"/>
<path d="M982.8,1596.2 L998.3,1596.2" stroke-width="1.12"/>
<path d="M961.5,1607.9 L1019.3,1607.9" stroke-width="2.13"/>
<path d="M942.9,1619.5 L1038.4,1619.5" stroke-width="1.25"/>
<path d="M925.0,1630.4 L1056.2,1630.4" stroke-width="1.25"/>
<circle class="f" cx="907.6" cy="1636.3" r="1.92"/>
<circle class="f" cx="1073.6" cy="1636.3" r="1.92"/>
<line x1="902.5" y1="1644.8" x2="902.5" y2="1991.2" stroke-width="1.5"/>
<line x1="912.6" y1="1644.8" x2="912.6" y2="1991.2" stroke-width="1.5"/>
<line x1="1079.5" y1="1644.8" x2="1079.5" y2="1991.2" stroke-width="1.62"/>
<line x1="1068.7" y1="1644.8" x2="1068.7" y2="1991.2" stroke-width="1.38"/>
<line x1="1001.9" y1="1644.8" x2="1001.9" y2="1815.2" stroke-width="1.25"/>
<line x1="1003.8" y1="1644.8" x2="1003.8" y2="1815.2" stroke-width="1.25"/>
<line x1="1010.4" y1="1644.8" x2="1010.4" y2="1815.2" stroke-width="1.25"/>
<line x1="1022.5" y1="1644.8" x2="1022.5" y2="1815.2" stroke-width="1.25"/>
<line x1="1034.5" y1="1644.8" x2="1034.5" y2="1815.2" stroke-width="1.12"/>
<line x1="1035.9" y1="1644.8" x2="1035.9" y2="1815.2" stroke-width="1.12"/>
<line x1="1043.4" y1="1644.8" x2="1043.4" y2="1815.2" stroke-width="1.25"/>
<line x1="1055.5" y1="1644.8" x2="1055.5" y2="1815.2" stroke-width="1.25"/>
<rect x="1018.2" y="1655.7" width="42.4" height="60.9" stroke-width="1.38" class="w"/>
<rect x="1018.2" y="1655.7" width="42.4" height="4.7" stroke-width="1.25"/>
<rect x="1018.2" y="1711.6" width="42.4" height="5.0" stroke-width="1.25"/>
<path d="M1022.5,1660.3 L1022.5,1711.6" stroke-width="1.25"/>
<path d="M1055.9,1660.3 L1055.9,1711.6" stroke-width="1.25"/>
<path d="M1037.6,1660.3 L1037.6,1711.6" stroke-width="1.25"/>
<path d="M1041.2,1660.3 L1041.2,1711.6" stroke-width="1.25"/>
<path d="M1022.5,1674.8 L1037.6,1674.8" stroke-width="1.19"/>
<path d="M1041.2,1674.8 L1055.9,1674.8" stroke-width="1.19"/>
<path d="M1022.5,1679.3 L1037.6,1679.3" stroke-width="1.19"/>
<path d="M1041.2,1679.3 L1055.9,1679.3" stroke-width="1.19"/>
<path d="M1022.5,1688.8 L1037.6,1688.8" stroke-width="1.19"/>
<path d="M1041.2,1688.8 L1055.9,1688.8" stroke-width="1.19"/>
<path d="M1022.5,1693.4 L1037.6,1693.4" stroke-width="1.19"/>
<path d="M1041.2,1693.4 L1055.9,1693.4" stroke-width="1.19"/>
<path d="M1022.5,1698.4 L1037.6,1698.4" stroke-width="1.19"/>
<path d="M1041.2,1698.4 L1055.9,1698.4" stroke-width="1.19"/>
<path d="M1022.5,1702.7 C1023.8,1702.5 1027.3,1701.5 1029.8,1701.5 C1032.4,1701.4 1036.3,1702.3 1037.6,1702.4" stroke-width="1.12" stroke-linecap="round" stroke-linejoin="round" />
<path d="M1041.2,1702.4 C1042.4,1702.3 1046.0,1701.4 1048.5,1701.5 C1050.9,1701.5 1054.7,1702.5 1055.9,1702.7" stroke-width="1.12" stroke-linecap="round" stroke-linejoin="round" />
<path d="M907.6,1687.5 L907.6,1707.4 L912.6,1707.4" stroke-width="1.25"/>
<path d="M907.6,1688.3 L1001.9,1688.3" stroke-width="1.38"/>
<path d="M998.8,1688.3 L998.8,1815.2" stroke-width="1.25"/>
<path d="M912.6,1707.4 C914.9,1706.8 921.7,1704.8 926.6,1703.8 C931.5,1702.9 937.3,1702.2 942.1,1701.8 C946.9,1701.4 950.7,1701.3 955.3,1701.3 C960.0,1701.4 965.0,1701.5 970.1,1702.0 C975.1,1702.4 980.8,1703.1 985.6,1704.0 C990.4,1704.9 996.6,1706.8 998.8,1707.4" stroke-width="1.25" stroke-linecap="round" stroke-linejoin="round" />
<path d="M1079.5,1688.3 L1082.6,1688.3" stroke-width="1.25"/>
<path d="M1073.3,1687.5 L1073.3,1707.4 L1068.7,1707.4" stroke-width="1.25"/>
<path d="M1073.3,1688.3 L1079.5,1688.3" stroke-width="1.25"/>
<rect x="998.8" y="1815.6" width="83.9" height="18.9" stroke-width="1.38" class="w"/>
<rect class="f" x="1004.4" y="1816.3" width="3.4" height="3.4"/>
<circle class="f" cx="1073.6" cy="1820.3" r="1.92"/>
<circle class="f" cx="1073.6" cy="1829.1" r="1.92"/>
<circle class="f" cx="1019.8" cy="1824.9" r="1.08"/>
<circle class="f" cx="1019.8" cy="1830.8" r="1.08"/>
<circle class="f" cx="1083.1" cy="1821.8" r="1.2"/>
<circle class="f" cx="1083.1" cy="1830.4" r="1.2"/>
<rect x="898.6" y="1815.6" width="17.9" height="19.4" stroke-width="1.38" class="w"/>
<circle class="f" cx="907.6" cy="1820.3" r="1.92"/>
<circle class="f" cx="907.6" cy="1829.1" r="1.92"/>
<path d="M998.8,1815.2 L1002.7,1809.4 L1002.7,1804.0" stroke-width="1.12"/>
<path class="w" d="M916.5,2010.6 L916.5,1798.3 Q916.5,1795.5 918.8,1795.5 L921.9,1795.5 C926.6,1808.0 940.6,1817.7 956.9,1817.7 C973.2,1817.7 987.1,1808.0 992.6,1795.5 L996.1,1795.5 Q998.3,1795.5 998.3,1798.3 L998.3,2010.6" stroke-width="1.1"/>
<path d="M916.5,1972.5 C917.7,1972.6 920.8,1972.4 923.5,1972.7 C926.2,1973.0 929.2,1973.9 932.8,1974.4 C936.4,1974.9 941.1,1975.3 945.2,1975.5 C949.4,1975.7 953.5,1975.8 957.6,1975.8 C961.8,1975.8 965.9,1975.7 970.1,1975.3 C974.2,1975.0 979.0,1974.4 982.5,1973.9 C986.0,1973.5 988.4,1972.8 991.0,1972.5 C993.7,1972.3 997.1,1972.5 998.3,1972.5" stroke-width="1.25" stroke-linecap="round" stroke-linejoin="round" />
<path d="M923.2,1972.5 L923.2,2007.0" stroke-width="1.25"/>
<path d="M991.5,1972.5 L992.3,2007.0" stroke-width="1.25"/>
<circle class="f" cx="973.9" cy="1935.0" r="0.8"/>
<rect x="998.8" y="1835.1" width="69.1" height="155.3" stroke-width="1.25"/>
<rect x="998.8" y="1836.8" width="67.5" height="152.5" stroke-width="1.25" rx="1.6"/>
<path d="M998.8,1845.2 L1066.3,1845.2" stroke-width="1.25"/>
<path d="M998.8,1980.3 L1066.3,1980.3" stroke-width="1.25"/>
<path d="M1004.2,1845.2 L1004.2,1980.3" stroke-width="1.5"/>
<path d="M1014.3,1845.2 L1014.3,1980.3" stroke-width="1.25"/>
<path d="M1026.0,1845.2 L1026.0,1980.3" stroke-width="1.5"/>
<path d="M1037.6,1845.2 L1037.6,1980.3" stroke-width="1.25"/>
<path d="M1049.3,1845.2 L1049.3,1980.3" stroke-width="1.25"/>
<path d="M1057.8,1845.2 L1057.8,1980.3" stroke-width="1.25"/>
<rect x="1005.0" y="1908.6" width="52.0" height="8.9" stroke-width="1.38" class="w"/>
<circle cx="1061.7" cy="1913.1" r="2.6" stroke-width="1.25"/>
<path d="M1067.1,1842.1 L1067.1,1981.9" stroke-width="1.0"/>
<rect x="1009.7" y="1850.3" width="43.9" height="47.4" stroke-width="1.38" class="w"/>
<path d="M1009.7,1855.8 L1053.6,1855.8" stroke-width="1.25"/>
<path d="M1009.7,1892.1 L1053.6,1892.1" stroke-width="1.25"/>
<rect x="1014.8" y="1855.8" width="13.5" height="36.3" stroke-width="1.25"/>
<rect x="1034.5" y="1855.8" width="14.0" height="36.3" stroke-width="1.25"/>
<path d="M1014.8,1860.7 L1028.3,1860.7" stroke-width="1.19"/>
<path d="M1034.5,1860.7 L1048.5,1860.7" stroke-width="1.19"/>
<path d="M1014.8,1872.4 L1028.3,1872.4" stroke-width="1.19"/>
<path d="M1034.5,1872.4 L1048.5,1872.4" stroke-width="1.19"/>
<path d="M1014.8,1876.3 L1028.3,1876.3" stroke-width="1.19"/>
<path d="M1034.5,1876.3 L1048.5,1876.3" stroke-width="1.19"/>
<rect x="1079.5" y="1950.3" width="3.1" height="18.3" stroke-width="1.12"/>
<path d="M1082.6,1950.8 C1082.8,1951.6 1083.5,1953.4 1083.7,1955.5 C1083.9,1957.5 1083.9,1961.1 1083.7,1963.2 C1083.5,1965.4 1082.8,1967.4 1082.6,1968.2" stroke-width="1.12" stroke-linecap="round" stroke-linejoin="round" />
<rect x="998.8" y="1991.2" width="83.9" height="19.4" stroke-width="1.38"/>
<circle class="f" cx="1073.6" cy="1996.9" r="1.92"/>
<circle class="f" cx="1073.6" cy="2005.9" r="1.92"/>
<circle class="f" cx="1083.4" cy="2000.5" r="1.2"/>
<path d="M998.8,1989.9 L1007.3,1989.9" stroke-width="1.12"/>
</g>
<g id="leftpanel" class="s">
<rect x="843.4" y="1568.4" width="77.3" height="39.9" stroke-width="1.5"/>
<path d="M843.4,1571.8 L920.7,1571.8" stroke-width="2.24"/>
<path d="M843.4,1577.3 L920.7,1577.3" stroke-width="1.25"/>
<path d="M843.4,1582.7 L920.7,1582.7" stroke-width="1.25"/>
<path d="M843.4,1588.1 L920.7,1588.1" stroke-width="1.25"/>
<path d="M843.4,1593.9 L920.7,1593.9" stroke-width="2.24"/>
<path d="M843.4,1599.8 L920.7,1599.8" stroke-width="2.24"/>
<path d="M843.4,1605.2 L920.7,1605.2" stroke-width="1.25"/>
<line x1="847.3" y1="1570.3" x2="847.3" y2="1606.8" stroke-width="1.1" stroke-dasharray="1.1 1.9"/>
<line x1="916.4" y1="1570.3" x2="916.4" y2="1606.8" stroke-width="1.1" stroke-dasharray="1.1 1.9"/>
<path d="M852.0,1608.3 L852.0,1615.3 L853.0,1616.4 L854.8,1616.4 L855.8,1615.3 L855.8,1608.3" stroke-width="1.12"/>
<path d="M908.6,1608.3 L908.6,1615.3 L909.7,1616.4 L911.4,1616.4 L912.5,1615.3 L912.5,1608.3" stroke-width="1.12"/>
<path d="M856.3,1608.3 L856.3,1685.2" stroke-width="1.38"/>
<path d="M861.7,1608.3 L861.7,1685.2" stroke-width="1.38"/>
<path d="M902.4,1608.3 L902.4,1627.0" stroke-width="1.38"/>
<path d="M907.4,1608.3 L907.4,1623.9" stroke-width="1.38"/>
<rect x="834.4" y="1668.9" width="16.8" height="11.6" stroke-width="1.25"/>
<path d="M837.5,1668.9 L837.5,1680.5" stroke-width="1.12"/>
<rect x="851.2" y="1670.7" width="5.1" height="8.2" stroke-width="1.25"/>
<rect x="862.4" y="1670.7" width="12.1" height="6.7" stroke-width="1.25"/>
<path d="M863.9,1670.7 L863.9,1677.4" stroke-width="1.12"/>
<path d="M852.7,1679.8 L852.0,1683.6 L854.3,1685.2 L856.3,1683.6" stroke-width="1.25"/>
<rect x="853.5" y="1685.5" width="48.9" height="12.1" stroke-width="1.38"/>
<circle class="f" cx="858.9" cy="1689.4" r="1.92"/>
<circle class="f" cx="858.9" cy="1695.0" r="1.92"/>
<rect class="f" x="894.2" y="1690.2" width="3.4" height="3.4"/>
<path d="M853.5,1697.6 L853.5,1772.6" stroke-width="1.79"/>
<path d="M856.3,1697.6 L856.3,1772.6" stroke-width="1.25"/>
<path d="M861.7,1697.6 L861.7,1772.6" stroke-width="1.25"/>
<path d="M869.5,1697.6 L869.5,1772.6" stroke-width="1.25"/>
<path d="M877.6,1697.6 L877.6,1772.6" stroke-width="1.12"/>
<path d="M879.3,1697.6 L879.3,1772.6" stroke-width="1.12"/>
<path d="M885.7,1697.6 L885.7,1772.6" stroke-width="1.25"/>
<path d="M894.7,1697.6 L894.7,1772.6" stroke-width="1.25"/>
<path d="M902.4,1697.6 L902.4,1772.6" stroke-width="1.25"/>
<rect x="853.5" y="1772.6" width="48.9" height="11.5" stroke-width="1.38"/>
<circle class="f" cx="858.9" cy="1776.0" r="1.92"/>
<circle class="f" cx="858.9" cy="1781.8" r="1.92"/>
<rect class="f" x="894.2" y="1777.1" width="3.4" height="3.4"/>
<rect x="853.5" y="1784.1" width="48.9" height="14.4" stroke-width="1.25"/>
<path d="M861.3,1784.1 L861.3,1798.5" stroke-width="1.25"/>
<path d="M861.3,1794.7 L902.4,1794.7" stroke-width="1.25"/>
<path d="M863.6,1794.7 L863.6,1798.5" stroke-width="1.0"/>
<path d="M877.6,1794.7 L877.6,1798.5" stroke-width="1.0"/>
<path d="M890.0,1794.7 L890.0,1798.5" stroke-width="1.0"/>
<rect x="853.5" y="1798.5" width="48.9" height="12.0" stroke-width="1.38"/>
<circle class="f" cx="858.9" cy="1801.2" r="1.92"/>
<circle class="f" cx="858.9" cy="1807.1" r="1.92"/>
<circle class="f" cx="866.7" cy="1802.9" r="1.92"/>
<circle class="f" cx="892.8" cy="1804.0" r="1.92"/>
<path d="M852.1,1691.4 L853.5,1691.4" stroke-width="1.62"/>
<path d="M852.1,1703.0 L853.5,1703.0" stroke-width="1.62"/>
<path d="M852.1,1790.0 L853.5,1790.0" stroke-width="1.62"/>
<path d="M852.1,1804.0 L853.5,1804.0" stroke-width="1.62"/>
<path d="M866.7,1811.0 L898.5,1833.5" stroke-width="1.25"/>
<path d="M886.9,1811.0 L898.5,1819.5" stroke-width="1.25"/>
<path d="M827.9,2010.6 L902.4,1898.0" stroke-width="1.25"/>
<path d="M855.1,1991.2 L902.4,1920.5" stroke-width="1.25"/>
<path d="M827.9,2010.6 L840.3,1991.2 L915.6,1991.2 L915.6,2010.6" stroke-width="1.38"/>
<circle class="f" cx="844.2" cy="1996.9" r="1.92"/>
<circle class="f" cx="838.0" cy="2005.9" r="1.92"/>
<circle class="f" cx="907.4" cy="1996.9" r="1.92"/>
<circle class="f" cx="907.4" cy="2005.9" r="1.92"/>
<rect x="900.9" y="1926.0" width="14.8" height="11.6" stroke-width="1.25" class="w"/>
<circle class="f" cx="907.4" cy="1931.9" r="1.92"/>
<circle class="f" cx="899.6" cy="1931.9" r="1.0"/>
<path class="f" d="M906.5,1867.6 V1855.2 Q907.3,1852.6 908.1,1855.2 V1867.6 Z"/>
<path d="M903.2,1874.2 L905.6,1867.4 H909 L911.4,1874.2" stroke-width="1.2"/>
<path d="M900.4,1874.6 H914.2" stroke-width="1.3"/>
<path d="M907.3,1875.4 V1887.8" stroke-width="1.1"/>
<path d="M912.8,1834.3 L916.1,1834.3" stroke-width="1.0"/>
<path d="M912.8,1841.3 L916.1,1841.3" stroke-width="1.0"/>
<path d="M912.8,1856.1 L916.1,1856.1" stroke-width="1.0"/>
<path d="M912.8,1862.3 L916.1,1862.3" stroke-width="1.0"/>
<path d="M912.8,1876.3 L916.1,1876.3" stroke-width="1.0"/>
<path d="M912.8,1888.7 L916.1,1888.7" stroke-width="1.0"/>
<path d="M912.8,1899.6 L916.1,1899.6" stroke-width="1.0"/>
<path d="M912.8,1912.0 L916.1,1912.0" stroke-width="1.0"/>
<path d="M912.8,1915.1 L916.1,1915.1" stroke-width="1.0"/>
<path d="M912.8,1923.6 L916.1,1923.6" stroke-width="1.0"/>
<path d="M916.1,1834.3 L916.1,1924.4" stroke-width="1.0"/>
<circle class="f" cx="914.5" cy="1943.8" r="0.8"/>
<circle class="f" cx="914.5" cy="1956.2" r="0.8"/>
</g>
<g id="tube" class="s">
<path d="M853.5,1698.1 C852.3,1698.2 849.8,1698.0 846.5,1698.7 C843.3,1699.4 838.2,1701.1 834.1,1702.3 C830.0,1703.5 825.8,1704.7 821.7,1705.8 C817.5,1707.0 813.7,1708.0 809.3,1709.3 C804.9,1710.5 798.6,1712.3 795.3,1713.3 C792.0,1714.3 790.4,1715.1 789.4,1715.5" stroke-width="1.25" stroke-linecap="round" stroke-linejoin="round" />
<rect class="f" x="845.2" y="1697.7" width="2.6" height="2.6"/>
<rect class="f" x="832.5" y="1701.3" width="2.6" height="2.6"/>
<rect class="f" x="820.1" y="1704.8" width="2.6" height="2.6"/>
<rect class="f" x="807.6" y="1708.4" width="2.6" height="2.6"/>
<rect class="f" x="794.8" y="1711.8" width="2.6" height="2.6"/>
<path d="M824.8,1797.8 L853.5,1797.0" stroke-width="1.25"/>
<rect class="f" x="825.0" y="1795.7" width="2.6" height="2.6"/>
<rect class="f" x="835.9" y="1795.2" width="2.6" height="2.6"/>
<rect class="f" x="847.6" y="1795.2" width="2.6" height="2.6"/>
<path d="M788.8,1714.2 L822.0,1801.6" stroke-width="2.24"/>
<path d="M742.8,1732.2 L775.9,1818.7" stroke-width="2.24"/>
<path d="M745.6,1731.8 L787.5,1716.2" stroke-width="1.25"/>
<path d="M746.4,1734.1 L788.3,1718.6" stroke-width="1.25"/>
<line x1="745.9" y1="1733.0" x2="787.8" y2="1717.3" stroke-width="2.4" stroke-dasharray="1 1"/>
<path d="M778.2,1815.2 L820.1,1799.6" stroke-width="1.25"/>
<path d="M779.0,1817.3 L820.9,1801.8" stroke-width="1.25"/>
<line x1="778.5" y1="1816.2" x2="820.4" y2="1800.7" stroke-width="2.4" stroke-dasharray="1 1"/>
<rect class="f" x="750.4" y="1767.6" width="2.8" height="2.8"/>
<rect class="f" x="804.7" y="1770.0" width="2.8" height="2.8"/>
<rect class="f" x="765.9" y="1805.7" width="2.8" height="2.8"/>
<rect class="f" x="738.0" y="1736.6" width="2.8" height="2.8"/>
<path d="M742.5,1734.1 C739.6,1735.4 731.6,1738.4 725.4,1741.9 C719.2,1745.3 711.7,1749.8 705.2,1754.6 C698.7,1759.4 691.8,1765.6 686.6,1770.6 C681.4,1775.6 677.5,1779.5 674.2,1784.6 C670.8,1789.6 668.7,1795.0 666.7,1800.9 C664.7,1806.7 663.1,1814.4 662.0,1819.5 C661.0,1824.6 660.6,1827.2 660.5,1831.2 C660.4,1835.3 660.8,1839.5 661.4,1843.7 C662.1,1847.8 663.1,1852.1 664.5,1856.1 C666.0,1860.1 668.2,1864.2 670.3,1867.7 C672.4,1871.2 674.3,1873.6 677.3,1877.0 C680.2,1880.5 683.5,1884.3 688.1,1888.7 C692.8,1893.1 699.8,1899.0 705.2,1903.4 C710.7,1907.9 715.3,1911.5 720.7,1915.4 C726.2,1919.3 735.0,1924.8 737.8,1926.7" stroke-width="1.25" stroke-linecap="round" stroke-linejoin="round" />
<path d="M683.5,1772.9 C681.8,1774.7 676.0,1779.6 673.4,1783.8 C670.8,1787.9 669.6,1792.3 668.0,1797.8 C666.3,1803.2 664.3,1810.2 663.3,1816.4 C662.3,1822.6 662.0,1831.9 661.7,1835.0" stroke-width="1.25" stroke-linecap="round" stroke-linejoin="round" />
<path d="M751.0,1756.1 C748.0,1757.4 739.8,1760.3 733.2,1763.6 C726.6,1766.9 718.2,1771.6 711.4,1776.0 C704.7,1780.4 698.7,1784.8 692.8,1790.0 C686.8,1795.2 678.6,1804.5 675.7,1807.4" stroke-width="1.38" stroke-linecap="round" stroke-linejoin="round" />
<path d="M748.7,1758.6 C746.1,1759.8 739.2,1762.3 733.2,1765.5 C727.1,1768.7 718.8,1773.5 712.2,1777.9 C705.6,1782.3 699.4,1786.7 693.6,1791.9 C687.7,1797.0 680.0,1805.8 677.3,1808.6" stroke-width="1.38" stroke-linecap="round" stroke-linejoin="round" />
<circle class="f" cx="727.0" cy="1767.0" r="1.3"/>
<circle class="f" cx="711.4" cy="1776.8" r="1.3"/>
<circle class="f" cx="697.5" cy="1786.9" r="1.3"/>
<circle class="f" cx="686.6" cy="1795.9" r="1.3"/>
<path d="M671.5,1786.2 C671.1,1788.0 669.2,1793.5 669.0,1797.1 C668.8,1800.7 669.3,1804.3 670.3,1808.0 C671.3,1811.6 672.2,1815.1 674.9,1818.8 C677.7,1822.6 682.1,1826.8 686.6,1830.5 C691.1,1834.1 696.9,1838.0 702.1,1840.6 C707.3,1843.1 712.5,1845.0 717.6,1845.5 C722.8,1846.1 728.5,1845.3 733.2,1844.0 C737.8,1842.7 742.1,1840.2 745.6,1837.8 C749.1,1835.3 752.7,1830.8 754.1,1829.4" stroke-width="2.91" stroke-linecap="round" stroke-linejoin="round" />
<path d="M675.7,1803.3 C676.5,1805.6 678.1,1812.9 680.7,1817.3 C683.3,1821.7 687.4,1826.3 691.2,1829.7 C695.1,1833.1 699.3,1835.7 703.7,1837.8 C708.1,1839.8 713.0,1841.6 717.6,1842.1 C722.3,1842.6 727.3,1842.0 731.6,1840.9 C735.9,1839.7 740.0,1837.2 743.3,1835.1 C746.5,1833.0 749.7,1829.3 751.0,1828.1" stroke-width="1.12" stroke-linecap="round" stroke-linejoin="round" />
<path d="M754.1,1829.7 C754.3,1831.2 756.0,1834.9 755.2,1839.0 C754.4,1843.1 752.9,1849.4 749.5,1854.5 C746.1,1859.7 740.0,1865.3 734.7,1869.8 C729.4,1874.2 723.1,1878.4 717.6,1881.2 C712.2,1884.0 707.2,1885.7 702.1,1886.5 C697.1,1887.3 691.5,1887.7 687.4,1885.9 C683.2,1884.1 678.9,1877.2 677.3,1875.5" stroke-width="2.91" stroke-linecap="round" stroke-linejoin="round" />
<path d="M751.2,1833.6 C751.2,1835.0 752.0,1838.6 751.0,1842.1 C750.1,1845.6 748.6,1850.4 745.6,1854.5 C742.6,1858.7 737.8,1863.1 733.2,1867.0 C728.5,1870.8 722.6,1874.9 717.6,1877.5 C712.7,1880.2 706.0,1881.9 703.7,1882.8" stroke-width="1.12" stroke-linecap="round" stroke-linejoin="round" />
<circle class="f" cx="696.2" cy="1831.6" r="1.2"/>
<circle class="f" cx="693.1" cy="1837.8" r="1.2"/>
<circle class="f" cx="719.2" cy="1881.2" r="1.2"/>
<circle class="f" cx="709.9" cy="1883.7" r="1.2"/>
<path d="M775.4,1817.0 C773.5,1817.7 767.8,1819.7 764.2,1821.6 C760.7,1823.5 755.8,1827.3 754.1,1828.4" stroke-width="1.25" stroke-linecap="round" stroke-linejoin="round" />
<path d="M755.2,1831.2 L780.5,1850.2 L816.2,1873.9" stroke-width="1.25"/>
<path d="M789.1,1853.0 C788.2,1852.7 785.4,1850.9 783.6,1851.1 C781.8,1851.3 780.7,1852.2 778.2,1854.2 C775.7,1856.2 772.0,1859.6 768.9,1863.1 C765.8,1866.5 762.8,1870.1 759.6,1875.0 C756.3,1879.9 752.4,1886.8 749.5,1892.6 C746.5,1898.3 743.6,1904.4 741.7,1909.7 C739.8,1915.0 738.2,1920.9 737.8,1924.4 C737.4,1928.0 739.1,1929.8 739.4,1930.9" stroke-width="2.91" stroke-linecap="round" stroke-linejoin="round" />
<path d="M739.4,1930.9 C740.0,1931.3 742.0,1932.9 743.3,1933.0 C744.6,1933.0 746.5,1931.7 747.1,1931.4" stroke-width="1.57" stroke-linecap="round" stroke-linejoin="round" />
<path d="M746.4,1860.7 L758.8,1869.8" stroke-width="2.24"/>
<path d="M751.0,1892.6 L762.7,1899.6" stroke-width="2.24"/>
<path d="M762.7,1899.6 C764.5,1897.2 769.1,1889.2 773.5,1885.6 C777.9,1882.0 783.9,1879.6 789.1,1877.8 C794.2,1876.0 799.4,1874.7 804.6,1874.7 C809.8,1874.7 815.2,1875.7 820.1,1877.8 C825.0,1879.9 830.2,1883.5 834.1,1887.5 C838.0,1891.4 841.3,1896.0 843.7,1901.4 C846.1,1906.8 848.1,1914.4 848.4,1919.8 C848.6,1925.1 847.7,1930.1 845.3,1933.7 C842.9,1937.3 838.2,1939.5 834.1,1941.5 C830.0,1943.5 823.1,1945.1 820.9,1945.8" stroke-width="2.24" stroke-linecap="round" stroke-linejoin="round" />
<path d="M764.2,1902.7 C766.0,1900.3 770.8,1892.4 775.1,1888.7 C779.4,1885.0 784.9,1882.5 789.8,1880.6 C794.8,1878.8 799.8,1877.6 804.6,1877.5 C809.4,1877.5 814.0,1878.4 818.6,1880.3 C823.1,1882.2 828.0,1885.0 831.8,1888.7 C835.5,1892.4 838.8,1897.6 841.1,1902.7 C843.3,1907.7 844.6,1916.3 845.3,1919.0" stroke-width="1.12" stroke-linecap="round" stroke-linejoin="round" />
<path d="M820.9,1945.8 C823.1,1945.1 830.3,1943.6 834.1,1941.5 C837.9,1939.3 841.9,1934.4 843.4,1933.0" stroke-width="3.36" stroke-linecap="round" stroke-linejoin="round" />
<path d="M776.6,1892.1 C779.8,1890.3 789.1,1883.1 795.3,1881.2 C801.5,1879.4 808.5,1879.9 813.9,1881.2 C819.3,1882.5 824.6,1885.7 827.9,1889.0 C831.2,1892.3 833.3,1897.3 833.6,1901.1 C833.9,1904.9 832.3,1909.2 829.8,1912.0 C827.2,1914.7 820.4,1916.6 818.6,1917.6" stroke-width="1.25" stroke-linecap="round" stroke-linejoin="round" />
<path d="M779.0,1891.8 L817.8,1917.0" stroke-width="1.25"/>
<path d="M818.6,1917.6 C818.1,1918.7 815.9,1921.6 815.5,1924.4 C815.0,1927.2 815.7,1932.8 815.8,1934.5" stroke-width="1.25" stroke-linecap="round" stroke-linejoin="round" />
<path d="M776.6,1892.1 C775.4,1893.7 771.4,1897.3 768.9,1901.4 C766.3,1905.5 763.0,1912.0 761.4,1916.6 C759.9,1921.3 759.9,1927.0 759.6,1929.1" stroke-width="1.25" stroke-linecap="round" stroke-linejoin="round" />
<path d="M759.6,1929.1 C760.3,1931.4 761.4,1938.6 764.2,1943.0 C767.1,1947.4 772.5,1952.6 776.6,1955.5 C780.8,1958.3 784.9,1959.1 789.1,1960.1 C793.2,1961.1 799.4,1961.2 801.5,1961.4" stroke-width="1.25" stroke-linecap="round" stroke-linejoin="round" />
<path d="M772.8,1893.4 C771.1,1895.2 765.9,1900.3 762.7,1904.2 C759.4,1908.1 755.4,1912.4 753.4,1916.6 C751.3,1920.9 751.0,1927.6 750.6,1929.8" stroke-width="1.25" stroke-linecap="round" stroke-linejoin="round" />
<path d="M750.6,1929.8 C751.3,1929.9 753.4,1930.7 754.9,1930.3 C756.4,1929.9 758.8,1928.0 759.6,1927.5" stroke-width="1.25" stroke-linecap="round" stroke-linejoin="round" />
<path d="M752.1,1934.0 C753.1,1936.8 755.5,1945.4 758.0,1950.8 C760.5,1956.2 763.7,1961.8 767.3,1966.3 C771.0,1970.9 777.7,1976.0 779.8,1978.0" stroke-width="1.25" stroke-linecap="round" stroke-linejoin="round" />
<path d="M769.2,1979.5 C771.0,1979.3 775.4,1979.6 779.8,1978.0 C784.1,1976.4 790.9,1973.5 795.3,1969.8 C799.7,1966.1 803.6,1960.2 806.1,1955.8 C808.7,1951.4 809.8,1946.8 810.8,1943.4 C811.8,1939.9 812.1,1936.2 812.4,1934.8" stroke-width="1.25" stroke-linecap="round" stroke-linejoin="round" />
<path d="M848.4,1919.8 C847.6,1923.6 846.1,1936.6 843.7,1943.0 C841.3,1949.5 837.8,1954.3 834.1,1958.6 C830.4,1962.8 823.7,1967.0 821.7,1968.7" stroke-width="1.25" stroke-linecap="round" stroke-linejoin="round" />
<path d="M747.1,1933.0 L741.7,1995.8" stroke-width="1.25"/>
<path d="M812.4,1934.5 L819.3,1934.5 L820.9,2010.6" stroke-width="1.38"/>
<path d="M820.1,1946.1 L822.9,2010.6" stroke-width="1.25"/>
<path d="M740.2,1995.5 L820.9,1996.6" stroke-width="1.25"/>
<path d="M740.2,1995.5 L740.2,2010.6" stroke-width="1.25"/>
<path d="M744.3,1933.0 C743.5,1934.4 740.8,1939.2 739.4,1941.5 C738.0,1943.8 736.5,1946.0 736.0,1946.9" stroke-width="1.25" stroke-linecap="round" stroke-linejoin="round" />
<path d="M736.0,1946.9 L730.8,1997.4 L727.0,1998.2 L726.2,2010.6" stroke-width="1.25"/>
<path d="M730.8,1997.4 L730.8,2010.6" stroke-width="1.25"/>
<path d="M739.4,1946.9 C739.1,1948.3 737.5,1953.3 737.5,1955.5 C737.5,1957.7 738.3,1960.1 739.4,1960.1 C740.5,1960.1 743.0,1957.7 744.0,1955.5 C745.1,1953.3 745.3,1948.3 745.6,1946.9" stroke-width="1.25" stroke-linecap="round" stroke-linejoin="round" />
<circle class="f" cx="743.7" cy="1943.8" r="1.56"/>
<circle class="f" cx="743.7" cy="1951.6" r="1.56"/>
<circle class="f" cx="738.6" cy="2002.4" r="1.56"/>
<rect x="898.5" y="1815.7" width="17.1" height="18.6" stroke-width="1.38" class="w"/>
<circle class="f" cx="907.4" cy="1820.1" r="1.92"/>
<circle class="f" cx="907.4" cy="1828.9" r="1.92"/>
</g>
<g id="swings" class="s">
<path d="M1082.6,1688.3 H1414.3 M1082.6,1707.6 H1414.3" stroke-width="1.3"/>
<rect x="1082.6" y="1687.5" width="53.6" height="19.9" stroke-width="1.38"/>
<circle class="f" cx="1088.9" cy="1691.1" r="2.28"/>
<circle class="f" cx="1107.8" cy="1691.1" r="2.28"/>
<circle class="f" cx="1121.1" cy="1691.1" r="2.28"/>
<circle class="f" cx="1130.8" cy="1697.6" r="2.28"/>
<circle class="f" cx="1088.9" cy="1703.8" r="2.28"/>
<circle class="f" cx="1107.8" cy="1703.8" r="2.28"/>
<circle class="f" cx="1121.1" cy="1703.8" r="2.28"/>
<circle class="f" cx="1083.7" cy="1691.4" r="0.9"/>
<circle class="f" cx="1083.7" cy="1696.8" r="0.9"/>
<circle class="f" cx="1083.7" cy="1703.0" r="0.9"/>
<path class="f" d="M1187.9,1688.7 q2.6,-2.4 5.2,0 z"/>
<path class="f" d="M1201.8,1688.7 q2.6,-2.4 5.2,0 z"/>
<path class="f" d="M1230.6,1688.7 q2.6,-2.4 5.2,0 z"/>
<path class="f" d="M1244.5,1688.7 q2.6,-2.4 5.2,0 z"/>
<path class="f" d="M1293.5,1688.7 q2.6,-2.4 5.2,0 z"/>
<path class="f" d="M1307.4,1688.7 q2.6,-2.4 5.2,0 z"/>
<path class="f" d="M1336.9,1688.7 q2.6,-2.4 5.2,0 z"/>
<path class="f" d="M1350.1,1688.7 q2.6,-2.4 5.2,0 z"/>
<path class="f" d="M1404.5,1688.7 q2.6,-2.4 5.2,0 z"/>
<path class="f" d="M1139.0,1688.5 q2.6,-2.4 5.2,0 z"/>
<ellipse cx="1275.9" cy="1697.8" rx="12.7" ry="8.1" stroke-width="1.38"/>
<path d="M1275.9,1690.9 l0.0,-1.8" stroke-width="1.2"/>
<path d="M1275.9,1704.6 l0.0,1.8" stroke-width="1.2"/>
<path d="M1264.7,1697.8 l-1.8,0.0" stroke-width="1.2"/>
<path d="M1287.0,1697.8 l1.8,0.0" stroke-width="1.2"/>
<path d="M1414.3,1687.4 L1428.0,1687.4 L1446.6,1691.6 L1450.0,1714.5 L1439.1,1716.9 L1437.3,1707.1 L1414.3,1707.1Z" stroke-width="1.38"/>
<circle class="f" cx="1418.2" cy="1691.7" r="2.16"/>
<circle class="f" cx="1418.2" cy="1702.9" r="2.16"/>
<circle class="f" cx="1426.9" cy="1697.8" r="2.16"/>
<circle class="f" cx="1441.6" cy="1698.5" r="2.16"/>
<circle class="f" cx="1443.9" cy="1712.7" r="2.16"/>
<path class="f" d="M1125.6583850931677,1707.6 h18 l-3,2.6 h-12 z"/>
<path d="M1131.6583850931677,1709.6 v6 M1137.6583850931677,1709.6 v6" stroke-width="1.6"/>
<ellipse cx="1134.6583850931677" cy="1713.6" rx="4.2" ry="3" stroke-width="1.5"/>
<path d="M1134.6583850931677,1716.6 v4" stroke-width="1.3"/>
<ellipse cx="1134.6583850931677" cy="1725.1" rx="3.1" ry="5" stroke-width="1.6"/>
<path class="f" d="M1188.7639751552795,1707.6 h18 l-3,2.6 h-12 z"/>
<path d="M1194.7639751552795,1709.6 v6 M1200.7639751552795,1709.6 v6" stroke-width="1.6"/>
<ellipse cx="1197.7639751552795" cy="1713.6" rx="4.2" ry="3" stroke-width="1.5"/>
<path d="M1197.7639751552795,1716.6 v4" stroke-width="1.3"/>
<ellipse cx="1197.7639751552795" cy="1725.1" rx="3.1" ry="5" stroke-width="1.6"/>
<path class="f" d="M1231.9316770186335,1707.6 h18 l-3,2.6 h-12 z"/>
<path d="M1237.9316770186335,1709.6 v6 M1243.9316770186335,1709.6 v6" stroke-width="1.6"/>
<ellipse cx="1240.9316770186335" cy="1713.6" rx="4.2" ry="3" stroke-width="1.5"/>
<path d="M1240.9316770186335,1716.6 v4" stroke-width="1.3"/>
<ellipse cx="1240.9316770186335" cy="1725.1" rx="3.1" ry="5" stroke-width="1.6"/>
<path class="f" d="M1294.0434782608695,1707.6 h18 l-3,2.6 h-12 z"/>
<path d="M1300.0434782608695,1709.6 v6 M1306.0434782608695,1709.6 v6" stroke-width="1.6"/>
<ellipse cx="1303.0434782608695" cy="1713.6" rx="4.2" ry="3" stroke-width="1.5"/>
<path d="M1303.0434782608695,1716.6 v4" stroke-width="1.3"/>
<ellipse cx="1303.0434782608695" cy="1725.1" rx="3.1" ry="5" stroke-width="1.6"/>
<path class="f" d="M1337.0559006211179,1707.6 h18 l-3,2.6 h-12 z"/>
<path d="M1343.0559006211179,1709.6 v6 M1349.0559006211179,1709.6 v6" stroke-width="1.6"/>
<ellipse cx="1346.0559006211179" cy="1713.6" rx="4.2" ry="3" stroke-width="1.5"/>
<path d="M1346.0559006211179,1716.6 v4" stroke-width="1.3"/>
<ellipse cx="1346.0559006211179" cy="1725.1" rx="3.1" ry="5" stroke-width="1.6"/>
<path class="f" d="M1405.5341614906833,1707.6 h18 l-3,2.6 h-12 z"/>
<path d="M1411.5341614906833,1709.6 v6 M1417.5341614906833,1709.6 v6" stroke-width="1.6"/>
<ellipse cx="1414.5341614906833" cy="1713.6" rx="4.2" ry="3" stroke-width="1.5"/>
<path d="M1414.5341614906833,1716.6 v4" stroke-width="1.3"/>
<ellipse cx="1414.5341614906833" cy="1725.1" rx="3.1" ry="5" stroke-width="1.6"/>
<line x1="1134.7" y1="1730.5" x2="1143.1" y2="1933.2" stroke-width="4.3" stroke-dasharray="5 3.5" stroke-linecap="round"/>
<line x1="1134.7" y1="1730.5" x2="1143.1" y2="1933.2" stroke-width="2.6"/>
<line x1="1134.7" y1="1730.5" x2="1143.1" y2="1933.2" stroke-width="1.1" stroke-dasharray="2.4 6.1" stroke-dashoffset="-1.3" style="stroke:#e6eef7"/>
<line x1="1197.8" y1="1730.5" x2="1189.4" y2="1933.2" stroke-width="4.3" stroke-dasharray="5 3.5" stroke-linecap="round"/>
<line x1="1197.8" y1="1730.5" x2="1189.4" y2="1933.2" stroke-width="2.6"/>
<line x1="1197.8" y1="1730.5" x2="1189.4" y2="1933.2" stroke-width="1.1" stroke-dasharray="2.4 6.1" stroke-dashoffset="-1.3" style="stroke:#e6eef7"/>
<rect x="1139.9" y="1932.7" width="6.4" height="9.5" rx="2" stroke-width="1.7"/>
<rect x="1186.2" y="1932.7" width="6.4" height="9.5" rx="2" stroke-width="1.7"/>
<path d="M1143.1,1941.7 C1143.6,1963.7 1151.9,1972.3 1166.2,1972.3 C1180.6,1972.3 1188.9,1963.7 1189.4,1941.7" stroke-width="1.9"/>
<path d="M1144.9,1941.7 v8 M1187.6,1941.7 v8" stroke-width="0.9"/>
<line x1="1240.9" y1="1730.5" x2="1248.7" y2="1933.2" stroke-width="4.3" stroke-dasharray="5 3.5" stroke-linecap="round"/>
<line x1="1240.9" y1="1730.5" x2="1248.7" y2="1933.2" stroke-width="2.6"/>
<line x1="1240.9" y1="1730.5" x2="1248.7" y2="1933.2" stroke-width="1.1" stroke-dasharray="2.4 6.1" stroke-dashoffset="-1.3" style="stroke:#e6eef7"/>
<line x1="1303.0" y1="1730.5" x2="1294.8" y2="1933.2" stroke-width="4.3" stroke-dasharray="5 3.5" stroke-linecap="round"/>
<line x1="1303.0" y1="1730.5" x2="1294.8" y2="1933.2" stroke-width="2.6"/>
<line x1="1303.0" y1="1730.5" x2="1294.8" y2="1933.2" stroke-width="1.1" stroke-dasharray="2.4 6.1" stroke-dashoffset="-1.3" style="stroke:#e6eef7"/>
<rect x="1245.5" y="1932.7" width="6.4" height="9.5" rx="2" stroke-width="1.7"/>
<rect x="1291.6" y="1932.7" width="6.4" height="9.5" rx="2" stroke-width="1.7"/>
<path d="M1248.7,1941.7 C1249.2,1963.7 1257.5,1972.3 1271.8,1972.3 C1286.1,1972.3 1294.3,1963.7 1294.8,1941.7" stroke-width="1.9"/>
<path d="M1250.5,1941.7 v8 M1293.0,1941.7 v8" stroke-width="0.9"/>
<path d="M1344.8,1727.5 Q1350.4,1790.9 1351.5,1854.3 L1355.1,1931.6" stroke-width="1.3"/>
<path d="M1347.4,1727.5 Q1348.0,1790.9 1351.5,1854.3" stroke-width="1.3"/>
<path d="M1353.0,1864.3 L1355.9,1931.6" stroke-width="1.15"/>
<path d="M1349.9,1846.3 h3.2 v13 l-1.6,5 l-1.6,-5 z" stroke-width="1.3"/>
<rect x="1353.4" y="1929.3" width="3.4" height="8" stroke-width="1.15"/>
<ellipse cx="1355.1" cy="1942.5" rx="1.8" ry="3.6" stroke-width="1.15"/>
<path d="M1413.2,1727.5 Q1409.8,1790.9 1408.3,1854.3 L1405.1,1931.6" stroke-width="1.3"/>
<path d="M1415.8,1727.5 Q1412.2,1790.9 1408.3,1854.3" stroke-width="1.3"/>
<path d="M1406.8,1864.3 L1405.9,1931.6" stroke-width="1.15"/>
<path d="M1406.7,1846.3 h3.2 v13 l-1.6,5 l-1.6,-5 z" stroke-width="1.3"/>
<rect x="1403.4" y="1929.3" width="3.4" height="8" stroke-width="1.15"/>
<ellipse cx="1405.1" cy="1942.5" rx="1.8" ry="3.6" stroke-width="1.15"/>
<rect x="1334.1" y="1938.3" width="92.7" height="6.5" stroke-width="1.38" rx="3.3"/>
</g>
<g id="aleg" class="s">
<path d="M1447.9,1691.8 L1506.2,2010.8 M1445.2,1715.6 L1499.8,2010.8 M1437.3,1707.1 L1464.4,1868.3 L1465.2,1870.6 L1471.5,1869.2" stroke-width="1.15"/>
<path d="M1461.8,1858.5 L1463.6,1867" stroke-width="1.8"/>
<path d="M1475.3,1855.8 L1481.1,1854.6 L1482.6,1865.9 L1477.2,1867.5" stroke-width="1.25"/>
<path d="M1448.4,1732.9 L1452.0,1731.9 L1454.7,1747.1 L1451.2,1747.9Z" stroke-width="1.25"/>
<circle class="f" cx="1453.6" cy="1746.4" r="1.4"/>
<path d="M1499.4,1990.6 L1502.5,1990.6 L1506.4,1998.4 L1507.1,2010.0" stroke-width="1.25"/>
<path d="M1493.9,1996.1 L1497.0,2004.6" stroke-width="1.79"/>
</g>
<g id="ground" class="s">
<path d="M474.4,2010.8 H582.6 M602,2010.8 H652.4 M660.2,2010.8 H1231.9 M1238.1,2010.8 H1435 M1437.4,2010.8 H1503 M1514.6,2010.8 H1565.8 M1584.3,2010.8 H1670.7" stroke-width="1.4"/>
<path d="M726,2010.8 H1083 " stroke-width="2"/>
<path d="M1083,2010.8 H1231.9 M1238.1,2010.8 H1435 M1437.4,2010.8 H1503" stroke-width="1.7"/>
<line x1="737.0" y1="2010.8" x2="737.0" y2="2054.8" stroke-width="1.9"/>
<path class="f" d="M732.0,2039.5 H742.0 L738.0,2043.1000000000001 H736.0 Z"/>
<line x1="767.0" y1="2010.8" x2="767.0" y2="2054.8" stroke-width="1.9"/>
<path class="f" d="M762.0,2039.5 H772.0 L768.0,2043.1000000000001 H766.0 Z"/>
<line x1="856.3" y1="2000.6" x2="856.3" y2="2050.5" stroke-width="1.9"/>
<path class="f" d="M851.3,2036.3999999999999 H861.3 L857.3,2040.0 H855.3 Z"/>
<circle class="f" cx="856.3" cy="2001.1" r="2.3"/>
<line x1="898.0" y1="2010.8" x2="898.0" y2="2051" stroke-width="1.9"/>
<path class="f" d="M893.0,2036.3999999999999 H903.0 L899.0,2040.0 H897.0 Z"/>
<line x1="1082.6" y1="2010.8" x2="1082.6" y2="2051" stroke-width="1.9"/>
<path class="f" d="M1077.6,2036.3999999999999 H1087.6 L1083.6,2040.0 H1081.6 Z"/>
<line x1="1505.7" y1="2006" x2="1513" y2="2048.2" stroke-width="1.9"/>
<path d="M1505.6,2036.2 L1515.2,2034.4" stroke-width="1.8"/>
</g>
</svg>
</body>
</html>
